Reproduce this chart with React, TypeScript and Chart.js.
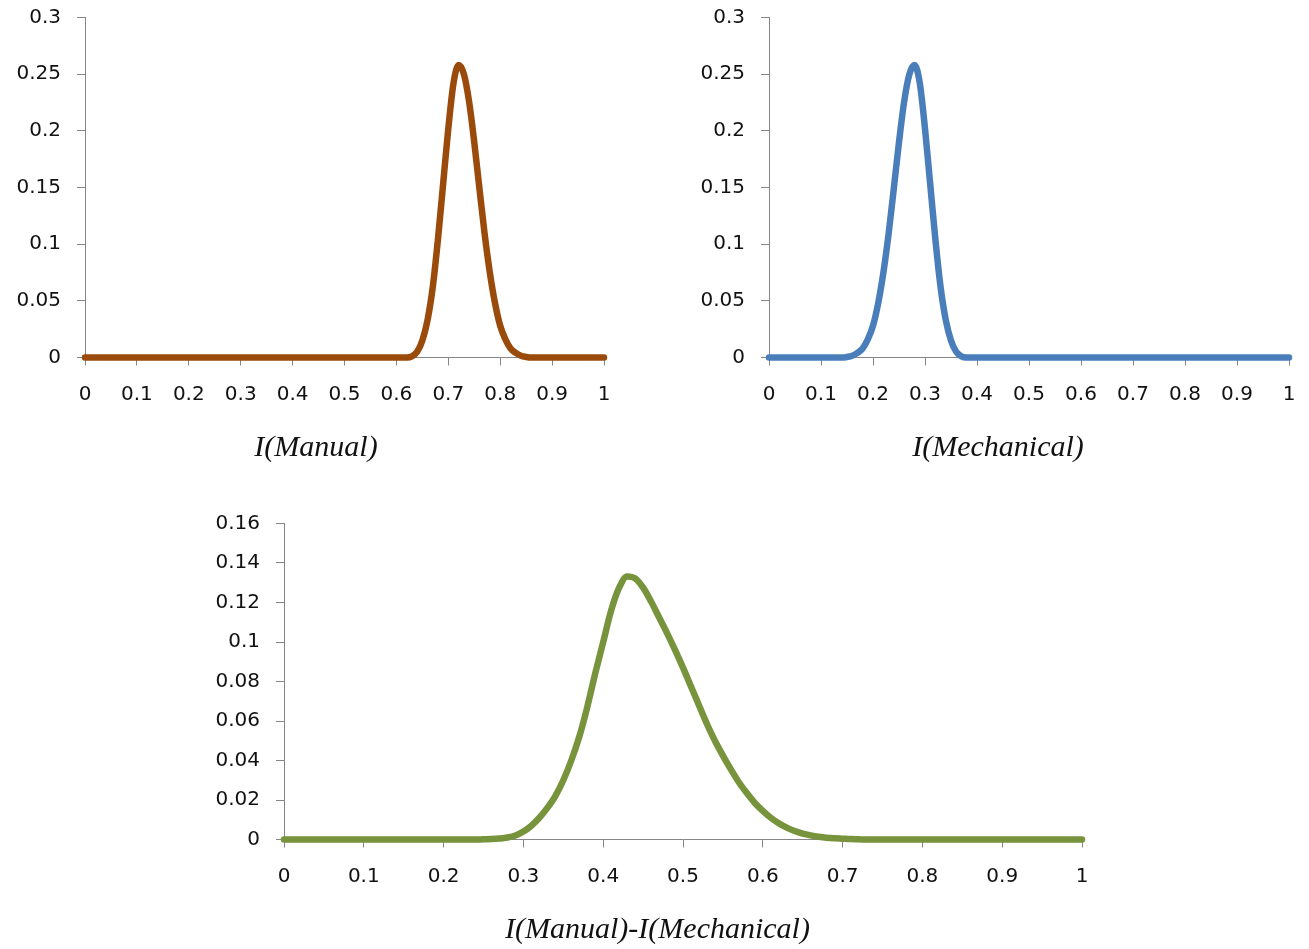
import React, { useEffect, useRef } from "react";
import { Chart, registerables } from "chart.js";

Chart.register(...registerables);

// ---- tick values & labels ----
const xTickValues = [0, 0.1, 0.2, 0.3, 0.4, 0.5, 0.6, 0.7, 0.8, 0.9, 1];
const xTickLabels = ["0", "0.1", "0.2", "0.3", "0.4", "0.5", "0.6", "0.7", "0.8", "0.9", "1"];

const yTickValuesTop = [0, 0.05, 0.1, 0.15, 0.2, 0.25, 0.3];
const yTickLabelsTop = ["0", "0.05", "0.1", "0.15", "0.2", "0.25", "0.3"];

const yTickValuesDiff = [0, 0.02, 0.04, 0.06, 0.08, 0.1, 0.12, 0.14, 0.16];
const yTickLabelsDiff = ["0", "0.02", "0.04", "0.06", "0.08", "0.1", "0.12", "0.14", "0.16"];

// ---- series: I(Manual) ----
const manualX = [0, 0.62, 0.63, 0.64, 0.65, 0.66, 0.67, 0.68, 0.69, 0.7, 0.71, 0.72, 0.73, 0.74, 0.75, 0.76, 0.77, 0.78, 0.79, 0.8, 0.81, 0.82, 0.83, 0.84, 0.85, 0.86, 1];
const manualY = [0, 0, 0.001, 0.005, 0.015, 0.033, 0.062, 0.104, 0.153, 0.202, 0.242, 0.258, 0.25, 0.226, 0.19, 0.149, 0.109, 0.075, 0.048, 0.028, 0.016, 0.008, 0.004, 0.0015, 0.0005, 0, 0];

// ---- series: I(Mechanical) ----
const mechX = [0, 0.14, 0.15, 0.16, 0.17, 0.18, 0.19, 0.2, 0.21, 0.22, 0.23, 0.24, 0.25, 0.26, 0.27, 0.28, 0.29, 0.3, 0.31, 0.32, 0.33, 0.34, 0.35, 0.36, 0.37, 0.38, 1];
const mechY = [0, 0, 0.0005, 0.0015, 0.004, 0.008, 0.016, 0.028, 0.048, 0.075, 0.109, 0.149, 0.19, 0.226, 0.25, 0.258, 0.242, 0.202, 0.153, 0.104, 0.062, 0.033, 0.015, 0.005, 0.001, 0, 0];

// ---- series: I(Manual)-I(Mechanical) ----
const diffX = [0, 0.24, 0.25, 0.26, 0.27, 0.28, 0.29, 0.3, 0.31, 0.32, 0.33, 0.34, 0.35, 0.36, 0.37, 0.38, 0.39, 0.4, 0.41, 0.42, 0.43, 0.44, 0.45, 0.46, 0.47, 0.48, 0.49, 0.5, 0.51, 0.52, 0.53, 0.54, 0.55, 0.56, 0.57, 0.58, 0.59, 0.6, 0.61, 0.62, 0.63, 0.64, 0.65, 0.66, 0.67, 0.68, 0.69, 0.7, 0.71, 0.72, 0.73, 0.74, 1];
const diffY = [0, 0, 0.0001, 0.0002, 0.0005, 0.001, 0.002, 0.004, 0.007, 0.011, 0.016, 0.022, 0.03, 0.04, 0.052, 0.067, 0.084, 0.1, 0.116, 0.1275, 0.1332, 0.1322, 0.1275, 0.1205, 0.1125, 0.1045, 0.096, 0.087, 0.0775, 0.068, 0.0585, 0.05, 0.0425, 0.0355, 0.029, 0.0235, 0.0185, 0.0145, 0.011, 0.0082, 0.006, 0.0043, 0.003, 0.0021, 0.0014, 0.0009, 0.0006, 0.0004, 0.0002, 0.0001, 0, 0, 0];

const captionManual = "I(Manual)";
const captionMech = "I(Mechanical)";
const captionDiff = "I(Manual)-I(Mechanical)";

const AXIS_COLOR = "#868686";
const TEXT_COLOR = "#111111";
const TICK_FONT = { family: '"DejaVu Sans", sans-serif', size: 20 };

type PanelProps = {
  left: number;
  top: number;
  width: number;
  height: number;
  padTop: number;
  padRight: number;
  axisW: number;
  axisH: number;
  xs: number[];
  ys: number[];
  color: string;
  yMax: number;
  yTickValues: number[];
  yTickLabels: string[];
  caption: string;
  captionX: number;
  captionY: number;
};

function Panel(p: PanelProps) {
  const ref = useRef<HTMLCanvasElement>(null);
  useEffect(() => {
    if (!ref.current) return;
    const pts = p.xs.map((x, i) => ({ x, y: p.ys[i] }));
    const captionPlugin = {
      id: "caption",
      afterDraw(chart: any) {
        const ctx = chart.ctx;
        ctx.save();
        ctx.font = 'italic 30px "Liberation Serif", serif';
        ctx.fillStyle = TEXT_COLOR;
        ctx.textAlign = "center";
        ctx.textBaseline = "middle";
        ctx.fillText(p.caption, p.captionX, p.captionY);
        ctx.restore();
      },
    };
    const zeroPad = (s: any) => {
      s.paddingTop = 0;
      s.paddingBottom = 0;
      s.paddingLeft = 0;
      s.paddingRight = 0;
    };
    const chart = new Chart(ref.current, {
      type: "line",
      data: {
        datasets: [
          {
            data: pts,
            borderColor: p.color,
            backgroundColor: p.color,
            borderWidth: 6.5,
            pointRadius: 0,
            cubicInterpolationMode: "monotone",
            fill: false,
            clip: 8,
            borderJoinStyle: "round",
            borderCapStyle: "round",
          } as any,
        ],
      },
      options: {
        animation: false,
        responsive: false,
        maintainAspectRatio: false,
        events: [],
        layout: { padding: { top: p.padTop, right: p.padRight, left: 0, bottom: 0 } },
        plugins: {
          legend: { display: false },
          tooltip: { enabled: false },
          title: { display: false },
        },
        scales: {
          x: {
            type: "linear",
            min: 0,
            max: 1,
            afterFit: (s: any) => {
              s.height = p.axisH;
              zeroPad(s);
            },
            afterBuildTicks: (s: any) => {
              s.ticks = xTickValues.map((v) => ({ value: v }));
            },
            ticks: {
              callback: (_v: any, i: number) => xTickLabels[i],
              font: TICK_FONT,
              color: TEXT_COLOR,
              padding: 17,
              maxRotation: 0,
              autoSkip: false,
            },
            grid: { drawOnChartArea: false, drawTicks: true, tickLength: 8, color: AXIS_COLOR, lineWidth: 1 },
            border: { display: true, color: AXIS_COLOR, width: 1 },
          },
          y: {
            type: "linear",
            min: 0,
            max: p.yMax,
            afterFit: (s: any) => {
              s.width = p.axisW;
              zeroPad(s);
            },
            afterBuildTicks: (s: any) => {
              s.ticks = p.yTickValues.map((v) => ({ value: v }));
            },
            ticks: {
              callback: (_v: any, i: number) => p.yTickLabels[i],
              font: TICK_FONT,
              color: TEXT_COLOR,
              padding: 16,
              autoSkip: false,
            },
            grid: { drawOnChartArea: false, drawTicks: true, tickLength: 8, color: AXIS_COLOR, lineWidth: 1 },
            border: { display: true, color: AXIS_COLOR, width: 1 },
          },
        },
      } as any,
      plugins: [captionPlugin],
    });
    return () => chart.destroy();
  }, []);
  return (
    <canvas
      ref={ref}
      width={p.width}
      height={p.height}
      style={{ position: "absolute", left: p.left, top: p.top, width: p.width, height: p.height }}
    />
  );
}

export default function App() {
  return (
    <div
      style={{
        position: "absolute",
        left: 0,
        top: 0,
        width: 1309,
        height: 949,
        background: "#ffffff",
        overflow: "hidden",
      }}
    >
      <Panel
        left={0}
        top={0}
        width={640}
        height={470}
        padTop={17.5}
        padRight={36}
        axisW={85}
        axisH={112.5}
        xs={manualX}
        ys={manualY}
        color="#9A4A0A"
        yMax={0.3}
        yTickValues={yTickValuesTop}
        yTickLabels={yTickLabelsTop}
        caption={captionManual}
        captionX={316}
        captionY={448}
      />
      <Panel
        left={684}
        top={0}
        width={625}
        height={470}
        padTop={17.5}
        padRight={20}
        axisW={85}
        axisH={112.5}
        xs={mechX}
        ys={mechY}
        color="#4A7EBB"
        yMax={0.3}
        yTickValues={yTickValuesTop}
        yTickLabels={yTickLabelsTop}
        caption={captionMech}
        captionX={314}
        captionY={448}
      />
      <Panel
        left={199}
        top={500}
        width={910}
        height={449}
        padTop={23.5}
        padRight={27}
        axisW={85}
        axisH={109.5}
        xs={diffX}
        ys={diffY}
        color="#77933C"
        yMax={0.16}
        yTickValues={yTickValuesDiff}
        yTickLabels={yTickLabelsDiff}
        caption={captionDiff}
        captionX={458.5}
        captionY={430}
      />
    </div>
  );
}
